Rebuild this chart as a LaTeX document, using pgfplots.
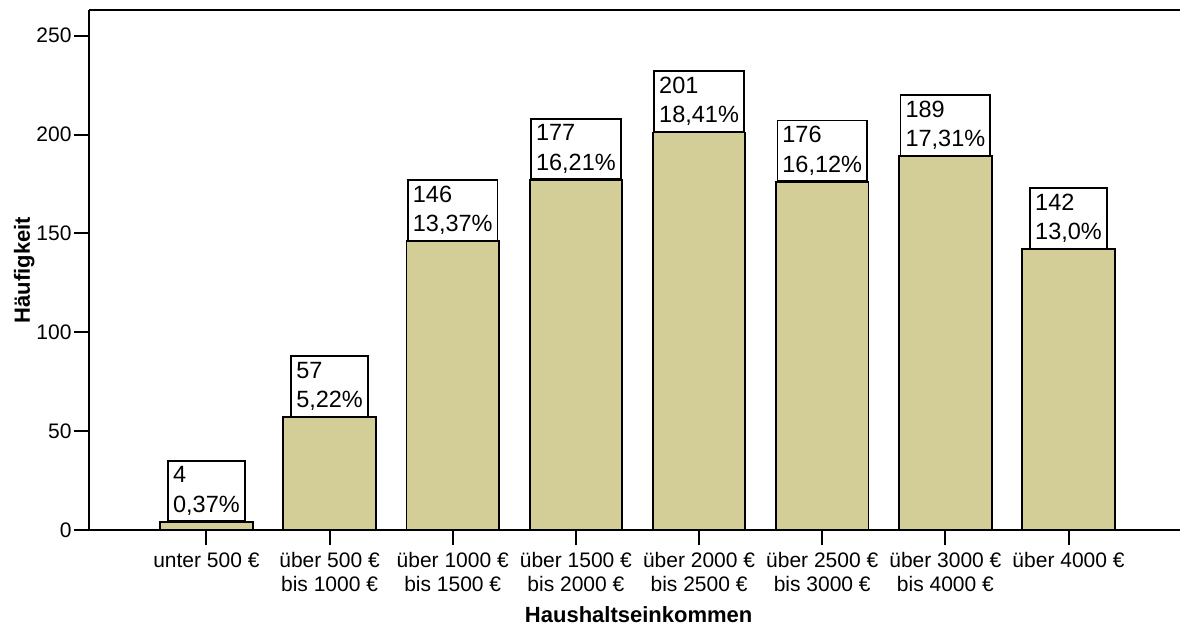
\documentclass[border=0pt]{standalone}
\usepackage{fontspec}
\setmainfont{Liberation Sans}
\usepackage{pgfplots}
\usepackage{pgfplotstable}
\pgfplotsset{compat=1.18}
\definecolor{barfill}{RGB}{211,206,151}
\pgfplotstableread{
x n pct
0 4 0,37
1 57 5,22
2 146 13,37
3 177 16,21
4 201 18,41
5 176 16,12
6 189 17,31
7 142 13,0
}\datatable
\begin{document}
\begin{tikzpicture}
\begin{axis}[
  name=ax,
  scale only axis,
  width=545.35pt, height=260pt,
  xmin=-0.951, xmax=7.905,
  ymin=0, ymax=263,
  axis x line=box, axis y line=left,
  axis line style={-, line width=1pt},
  tick pos=left,
  tick align=outside,
  major tick length=7.7pt,
  tick style={line width=1pt, black},
  xtick={0,...,7},
  xticklabels={unter 500 €, {über 500 €\\bis 1000 €}, {über 1000 €\\bis 1500 €}, {über 1500 €\\bis 2000 €}, {über 2000 €\\bis 2500 €}, {über 2500 €\\bis 3000 €}, {über 3000 €\\bis 4000 €}, über 4000 €},
  xticklabel style={align=center, font=\fontsize{10.5}{12}\selectfont},
  ytick={0,50,...,250},
  yticklabel style={font=\fontsize{10.5}{12}\selectfont, inner xsep=1pt},
  /pgf/number format/assume math mode=true,
  xlabel={Haushaltseinkommen},
  ylabel={Häufigkeit},
  label style={font=\bfseries\fontsize{11}{13}\selectfont},
  xlabel style={at={(axis description cs:0.5037,-0.178)}, anchor=base},
  ylabel style={at={(axis description cs:-0.0544,0.5)}, anchor=base},
  ybar, bar width=0.751,
]
\addplot[fill=barfill, draw=black, line width=0.9pt,
  point meta=explicit symbolic,
  visualization depends on={rawy \as \cnt},
  nodes near coords={\pgfmathprintnumber[fixed,precision=0]{\cnt}\\\pgfplotspointmeta\%},
  every node near coord/.append style={draw=black, fill=white, align=left, inner xsep=2.5pt, inner ysep=3pt, line width=0.8pt, font=\fontsize{11.75}{14.65}\selectfont, anchor=south}
] table[x=x,y=n,meta=pct] {\datatable};
\end{axis}
\pgfresetboundingbox
\path[use as bounding box] (ax.south west) ++(-44.65pt,-49pt) rectangle ++(590pt,314pt);
\end{tikzpicture}
\end{document}
